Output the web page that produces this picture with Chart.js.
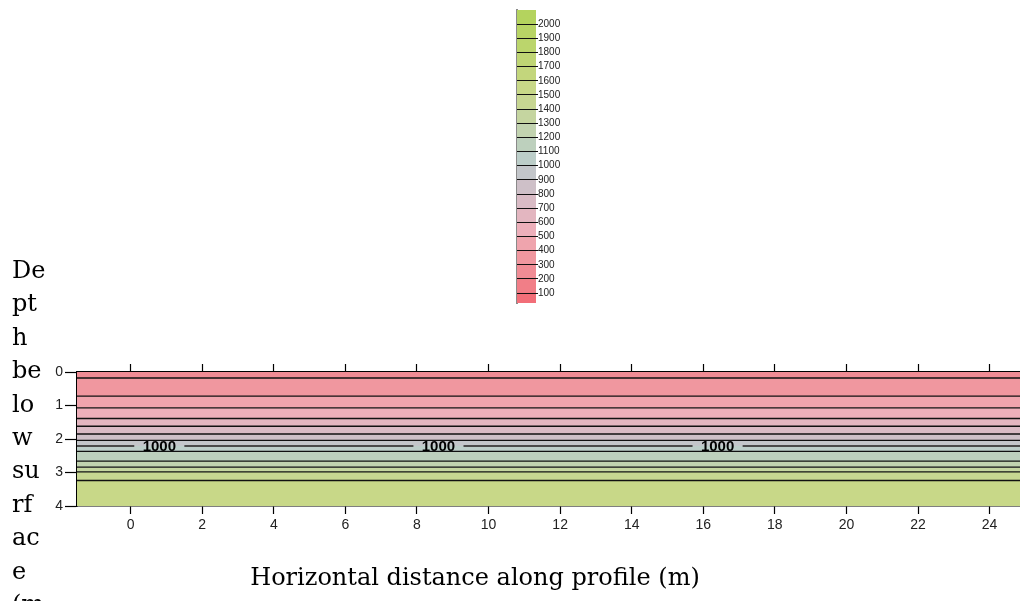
<!DOCTYPE html>
<html>
<head>
<meta charset="utf-8">
<script src="https://cdn.jsdelivr.net/npm/chart.js@4.4.0/dist/chart.umd.min.js"></script>
<style>
  html, body { margin: 0; padding: 0; background: #fff; overflow: hidden; }
  #wrap { position: relative; width: 1020px; height: 601px; }
  #main, #bar { position: absolute; left: 0; top: 0; }
</style>
</head>
<body>
<div id="wrap">
  <canvas id="main" width="1020" height="601" style="width:1020px;height:601px"></canvas>
  <canvas id="bar" width="1020" height="320" style="width:1020px;height:320px"></canvas>
</div>
<script>
// velocity classes of the colour scale (lower edge, m/s) and their colours
const binLow = [0, 100, 200, 300, 400, 500, 600, 700, 800, 900, 1000,
  1100, 1200, 1300, 1400, 1500, 1600, 1700, 1800, 1900, 2000];
const binColors = ['#f26e78', '#f17e87', '#f08c95', '#f0979f', '#efa4ad', '#edafba',
  '#e3b6c0', '#d9bbc5', '#cec0c8', '#c3c6ca', '#bccec9', '#bdd0bd', '#c2d3b0',
  '#c5d5a0', '#c7d692', '#c8d888', '#c3d67c', '#bfd574', '#bbd56c', '#b8d465', '#b4d35e'];
const barTicks = [100, 200, 300, 400, 500, 600, 700, 800, 900, 1000,
  1100, 1200, 1300, 1400, 1500, 1600, 1700, 1800, 1900, 2000];

// contour lines: velocity and depth (m)
const contourVelocity = [300, 400, 500, 600, 700, 800, 900, 1000, 1100, 1200, 1300, 1400, 1500];
const contourDepth = [0.18, 0.72, 1.07, 1.39, 1.62, 1.85, 2.04, 2.21, 2.37, 2.66, 2.84, 2.98, 3.24];
const topVelocity = 200;   // class of the layer above the first contour
const labelX = [0.8, 8.6, 16.4];
const labelVelocity = 1000;

const xTicks = [0, 2, 4, 6, 8, 10, 12, 14, 16, 18, 20, 22, 24];
const yTicks = [0, 1, 2, 3, 4];
const xMin = -1.5, xMax = 24.85, depthMax = 4;

const yTitleLines = ['De', 'pt', 'h', 'be', 'lo', 'w', 'su', 'rf', 'ac', 'e', '(m'];
const xTitle = 'Horizontal distance along profile (m)';

const colorFor = v => binColors[binLow.indexOf(v)];
const flat = d => [{ x: xMin, y: d }, { x: xMax, y: d }];

// filled layers between successive boundaries
const bounds = [0].concat(contourDepth, [depthMax]);
const layerVel = [topVelocity].concat(contourVelocity);
const datasets = [];
bounds.forEach((d, i) => {
  datasets.push({
    data: flat(d),
    fill: i === 0 ? false : '-1',
    backgroundColor: i === 0 ? 'transparent' : colorFor(layerVel[i - 1]),
    borderWidth: 0, pointRadius: 0, order: 5
  });
});
// contour lines
contourDepth.forEach((d, i) => {
  const v = contourVelocity[i];
  let pts = flat(d);
  let col = '#111';
  if (v === labelVelocity) {
    const gap = 0.7;
    pts = [{ x: xMin, y: d }];
    labelX.forEach(lx => {
      pts.push({ x: lx - gap, y: d }, { x: lx, y: null }, { x: lx + gap, y: d });
    });
    pts.push({ x: xMax, y: d });
    col = '#4a4a4a';
  }
  datasets.push({
    data: pts, fill: false, borderColor: col,
    borderWidth: v === labelVelocity ? 2 : 1.4,
    pointRadius: 0, order: 1, spanGaps: false
  });
});

const textPlugin = {
  id: 'texts',
  afterDatasetsDraw(chart) {
    const { ctx, scales: { x, y } } = chart;
    const d = contourDepth[contourVelocity.indexOf(labelVelocity)];
    ctx.save();
    ctx.font = 'bold 15px "Liberation Sans", Arial, sans-serif';
    ctx.fillStyle = '#000';
    ctx.textAlign = 'center';
    ctx.textBaseline = 'middle';
    labelX.forEach(lx => ctx.fillText(String(labelVelocity), x.getPixelForValue(lx), y.getPixelForValue(d) + 1));
    ctx.restore();
  },
  afterDraw(chart) {
    const ctx = chart.ctx;
    ctx.save();
    ctx.fillStyle = '#000';
    ctx.font = '24px "DejaVu Serif", serif';
    ctx.textAlign = 'left';
    ctx.textBaseline = 'alphabetic';
    yTitleLines.forEach((t, i) => ctx.fillText(t, 12, 278 + i * 33.4));
    ctx.textAlign = 'center';
    ctx.fillText(xTitle, 475, 585);
    ctx.restore();
  }
};

const tickFont = { family: '"Liberation Sans", Arial, sans-serif', size: 14 };
const setTicks = list => s => { s.ticks = list.map(v => ({ value: v })); };

new Chart(document.getElementById('main'), {
  type: 'line',
  data: { datasets },
  options: {
    responsive: false, animation: false,
    layout: { padding: { left: 0, right: 0, top: 364, bottom: 65 } },
    plugins: { legend: { display: false }, tooltip: { enabled: false } },
    elements: { line: { tension: 0 } },
    scales: {
      x: {
        type: 'linear', position: 'bottom', min: xMin, max: xMax,
        afterBuildTicks: setTicks(xTicks),
        afterFit: s => { s.height = 30; },
        border: { display: true, color: '#000', width: 1.5 },
        grid: { drawOnChartArea: false, tickLength: 8, color: '#000', tickWidth: 1.2 },
        ticks: { color: '#222', font: tickFont, padding: 3, maxRotation: 0 }
      },
      xTop: {
        type: 'linear', position: 'top', min: xMin, max: xMax,
        afterBuildTicks: setTicks(xTicks),
        afterFit: s => { s.height = 8; },
        border: { display: true, color: '#000', width: 2 },
        grid: { drawOnChartArea: false, tickLength: 8, color: '#000', tickWidth: 1.2 },
        ticks: { display: false }
      },
      y: {
        type: 'linear', position: 'left', reverse: true, min: 0, max: depthMax,
        afterBuildTicks: setTicks(yTicks),
        afterFit: s => { s.width = 77; },
        border: { display: true, color: '#000', width: 1.5 },
        grid: { drawOnChartArea: false, tickLength: 12, color: '#000', tickWidth: 1.2 },
        ticks: { color: '#222', font: tickFont, padding: 2 }
      }
    }
  },
  plugins: [textPlugin]
});

// colour bar
const unitPlugin = {
  id: 'unit',
  afterDraw(chart) {
    const ctx = chart.ctx;
    ctx.save();
    ctx.fillStyle = '#000';
    ctx.font = '24px "DejaVu Serif", serif';
    ctx.textAlign = 'center';
    ctx.textBaseline = 'alphabetic';
    ctx.fillText('m/s', 535, 341);
    ctx.restore();
  }
};

new Chart(document.getElementById('bar'), {
  type: 'bar',
  data: {
    labels: ['v'],
    datasets: binLow.map((lo, i) => ({
      data: [[lo, lo + 100]],
      backgroundColor: binColors[i],
      borderWidth: 0, barPercentage: 1, categoryPercentage: 1, grouped: false
    }))
  },
  options: {
    responsive: false, animation: false,
    layout: { padding: { left: 517, right: 454, top: 10, bottom: 17 } },
    plugins: { legend: { display: false }, tooltip: { enabled: false } },
    scales: {
      x: { display: false },
      yl: {
        type: 'linear', position: 'left', min: 30, max: 2100,
        afterFit: s => { s.width = 0; },
        border: { display: true, color: '#8a8a8a', width: 2 },
        grid: { display: false },
        ticks: { display: false }
      },
      y: {
        type: 'linear', position: 'right', min: 30, max: 2100,
        afterBuildTicks: setTicks(barTicks),
        afterFit: s => { s.width = 30; },
        border: { display: false },
        grid: { drawOnChartArea: true, z: 1, color: '#111', lineWidth: 1, tickLength: 2 },
        ticks: {
          color: '#222', padding: 0,
          callback: v => String(v),
          font: { family: '"Liberation Sans Narrow", "Liberation Sans", Arial, sans-serif', size: 10 }
        }
      }
    }
  },
  plugins: [unitPlugin]
});
</script>
</body>
</html>
